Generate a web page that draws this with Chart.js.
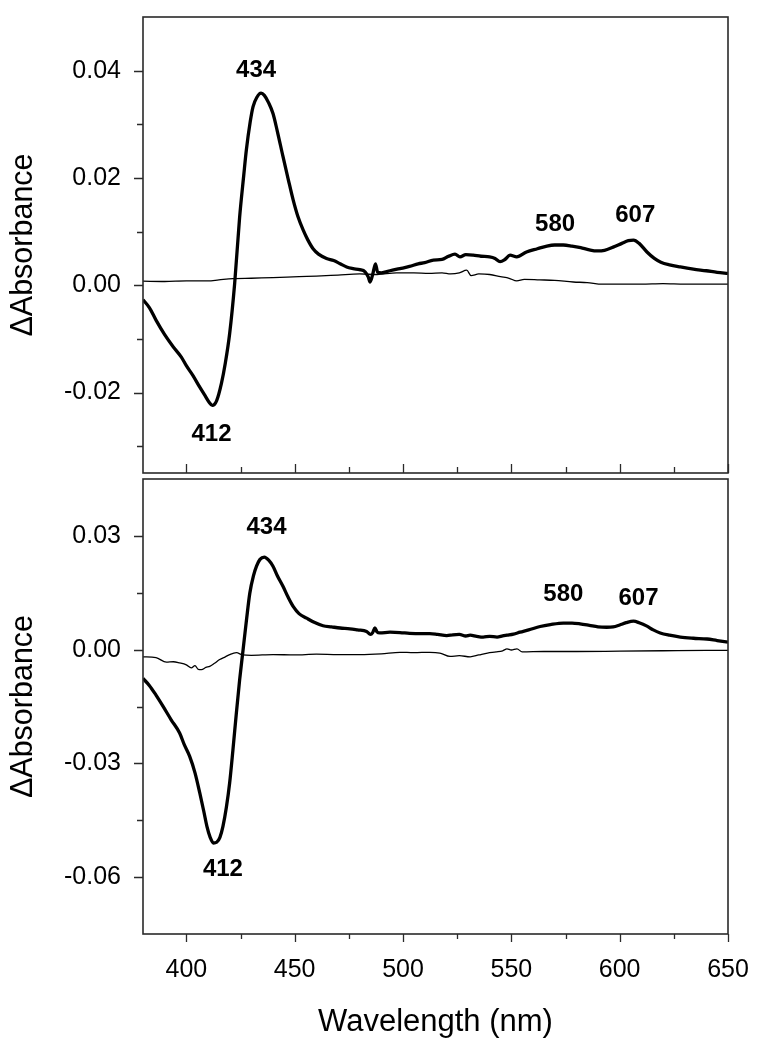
<!DOCTYPE html>
<html><head><meta charset="utf-8">
<script src="https://cdn.jsdelivr.net/npm/chart.js@4/dist/chart.umd.min.js"></script>
<style>
html,body{margin:0;padding:0;background:#fff;}
#wrap{position:relative;width:760px;height:1050px;background:#fff;}
#c1{position:absolute;left:0;top:0;}
#c2{position:absolute;left:0;top:476px;}
</style></head><body>
<div id="wrap"><canvas id="c1" width="760" height="476"></canvas><canvas id="c2" width="760" height="574"></canvas></div>
<script>
// ---------- data ----------
const topThickWl = [380,383,386,390,394,397.7,400,403,406.2,408.5,410.5,412,414,416.2,418,420,422.3,424.6,426.5,427.7,429.5,430.8,432.5,434.5,436,438,440,442,444.6,447,449.3,451.5,453.9,456,458.5,461,464.7,468,471,474,477,480,482.5,484,484.8,486,487.3,488.3,490,494,498.6,503,507,510,514,518,521,524,526.3,529,532.4,536,540,542.5,544.8,547,549.4,552.5,557,562,566.4,570,574,578,582,586,589.5,593,597,601,604,606.4,609,612.6,616,619,623,628,634,640,645,650];
const topThickVal = [-0.0027,-0.0042,-0.0065,-0.0092,-0.0115,-0.0134,-0.0150,-0.0168,-0.0190,-0.0205,-0.0218,-0.0224,-0.0215,-0.0183,-0.0145,-0.0090,0.0003,0.0127,0.0205,0.0252,0.0305,0.0333,0.0350,0.0358,0.0354,0.0340,0.0320,0.0287,0.0240,0.0198,0.0159,0.0128,0.0103,0.0085,0.0068,0.0058,0.0050,0.0046,0.0040,0.0034,0.0031,0.0029,0.0025,0.0015,0.0006,0.0020,0.0040,0.0024,0.0023,0.0027,0.0031,0.0035,0.0040,0.0042,0.0047,0.0048,0.0054,0.0058,0.0053,0.0057,0.0056,0.0054,0.0053,0.0050,0.0044,0.0048,0.0056,0.0053,0.0062,0.0068,0.0073,0.0075,0.0075,0.0073,0.0070,0.0066,0.0064,0.0065,0.0071,0.0078,0.0083,0.0084,0.0078,0.0062,0.0050,0.0043,0.0038,0.0034,0.0030,0.0027,0.0024,0.0022];

const topThinWl = [380,390,400,410,415,421.5,430,440,452,460,470,480,488,497,505,512,518,522,526,529.4,531.4,535,540,545,549,552.5,556,563,570,578.6,585,592,600,610,620,630,640,650];
const topThinVal = [0.00075,0.0007,0.0008,0.0008,0.0010,0.00125,0.0013,0.0014,0.0016,0.0017,0.0019,0.0021,0.0020,0.0023,0.0023,0.0022,0.0023,0.0021,0.0023,0.0028,0.0018,0.0021,0.0020,0.0016,0.0013,0.0008,0.0011,0.0010,0.0009,0.0006,0.0005,0.0002,0.0002,0.0002,0.0003,0.0002,0.0002,0.0002];

const botThickWl = [380,383,386,389.2,393,396.9,399,401.5,404,406.2,408,409.5,411,412.5,414,415.5,416.9,418.5,420,421.5,423.1,424.6,426.2,427.8,429.3,431,432.4,434,436,438,440,442,444.6,447,449.3,452,455.5,459,463.1,467,471,475.5,479,483.2,485,486,487,488,489.3,494,498.6,503,508,512.4,516,520.2,523,526,529,531,534,537,540,543.4,546,548,551,554,558,563.3,568,574,578,581.7,586,590,594,597,600,603,606.4,609,612.6,615.5,618.7,623,628,634,640.3,645,650];
const botThickVal = [-0.0076,-0.0095,-0.0120,-0.0149,-0.0185,-0.0220,-0.0250,-0.0281,-0.0325,-0.0378,-0.0425,-0.0466,-0.0495,-0.0510,-0.0508,-0.0495,-0.0466,-0.0415,-0.0351,-0.0265,-0.0167,-0.0080,0.0000,0.0080,0.0149,0.0195,0.0220,0.0238,0.0244,0.0236,0.0220,0.0195,0.0167,0.0138,0.0114,0.0095,0.0083,0.0072,0.0063,0.0060,0.0057,0.0055,0.0052,0.0048,0.0040,0.0045,0.0057,0.0047,0.0044,0.0046,0.0045,0.0043,0.0042,0.0042,0.0040,0.0037,0.0039,0.0040,0.0036,0.0038,0.0035,0.0033,0.0035,0.0033,0.0036,0.0038,0.0041,0.0046,0.0052,0.0061,0.0066,0.0070,0.0070,0.0068,0.0064,0.0060,0.0059,0.0060,0.0065,0.0071,0.0075,0.0071,0.0062,0.0052,0.0044,0.0038,0.0033,0.0030,0.0028,0.0024,0.0020];

const botThinWl = [380,386,390.8,394,396.9,400,402.3,404,405.5,407,409,410.8,413,415.4,418,420,423.1,426,430,440,450,460,470,480,490,498.6,505,512.4,517,521.7,526,531,535,539,543,546,548,550,552.6,555,565,580,600,620,640,650];
const botThinVal = [-0.0019,-0.0021,-0.0033,-0.0032,-0.0035,-0.0040,-0.0048,-0.0042,-0.0052,-0.0053,-0.0047,-0.0044,-0.0036,-0.0026,-0.0019,-0.0013,-0.0008,-0.0014,-0.0015,-0.0013,-0.0014,-0.0012,-0.0013,-0.0013,-0.0011,-0.0007,-0.0008,-0.0007,-0.0009,-0.0018,-0.0016,-0.0019,-0.0014,-0.0009,-0.0006,-0.0003,0.0002,-0.0001,0.0002,-0.0006,-0.0005,-0.0005,-0.0004,-0.0003,-0.0002,-0.0002];

// tick values
const xMajorTicks = [400,450,500,550,600,650];
const xMinorTicks = [425,475,525,575,625];
const topYMajor = [-0.02,0,0.02,0.04];
const topYMinor = [-0.03,-0.01,0.01,0.03];
const botYMajor = [-0.06,-0.03,0,0.03];
const botYMinor = [-0.045,-0.015,0.015];

// peak labels
const topPeakText = ['434','412','580','607'];
const topPeakAt = [[432.2,0.0400],[411.6,-0.0278],[570.2,0.0113],[607.2,0.0130]];
const botPeakText = ['434','412','580','607'];
const botPeakAt = [[437.0,0.0322],[416.9,-0.0580],[574.0,0.0145],[608.7,0.0135]];

const FONT = '"Liberation Sans", Arial, Helvetica, sans-serif';
const pts = (wl, v) => wl.map((w, i) => ({x: w, y: v[i]}));

const frameTicks = {
  id: 'frameTicks',
  afterDraw(chart, args, o) {
    const {ctx, chartArea: a, scales: {x, y}} = chart;
    ctx.save();
    ctx.strokeStyle = '#2a2a2a';
    ctx.lineWidth = 1.6;
    ctx.strokeRect(a.left, a.top, a.right - a.left, a.bottom - a.top);
    ctx.lineWidth = 1.3;
    ctx.beginPath();
    const xt = (vals, len) => vals.forEach(v => {
      const p = Math.round(x.getPixelForValue(v)) + 0.5;
      ctx.moveTo(p, a.bottom); ctx.lineTo(p, a.bottom + o.xDir * len);
    });
    const yt = (vals, len) => vals.forEach(v => {
      const p = Math.round(y.getPixelForValue(v)) + 0.5;
      ctx.moveTo(a.left, p); ctx.lineTo(a.left - len, p);
    });
    xt(xMajorTicks, o.xMajorLen); xt(xMinorTicks, o.xMinorLen);
    yt(o.yMajor, 9); yt(o.yMinor, 6);
    ctx.stroke();
    ctx.restore();
  }
};

const peakLabels = {
  id: 'peakLabels',
  afterDatasetsDraw(chart, args, o) {
    const {ctx, scales: {x, y}} = chart;
    ctx.save();
    ctx.font = 'bold 24px ' + FONT;
    ctx.fillStyle = '#000';
    ctx.textAlign = 'center';
    ctx.textBaseline = 'middle';
    o.text.forEach((t, i) => ctx.fillText(t, x.getPixelForValue(o.at[i][0]), y.getPixelForValue(o.at[i][1])));
    ctx.restore();
  }
};

function makeChart(id, cfg) {
  return new Chart(document.getElementById(id), {
    type: 'line',
    data: {datasets: [
      {data: pts(cfg.thickWl, cfg.thickVal), borderColor: '#000', borderWidth: 3.3, pointRadius: 0, cubicInterpolationMode: 'monotone', fill: false},
      {data: pts(cfg.thinWl, cfg.thinVal), borderColor: '#000', borderWidth: 1.3, pointRadius: 0, cubicInterpolationMode: 'monotone', fill: false}
    ]},
    options: {
      responsive: false, animation: false, devicePixelRatio: 1,
      layout: {padding: cfg.padding},
      plugins: {
        legend: {display: false}, tooltip: {enabled: false},
        frameTicks: {xDir: cfg.xDir, xMajorLen: cfg.xMajorLen, xMinorLen: cfg.xMinorLen, yMajor: cfg.yMajor, yMinor: cfg.yMinor},
        peakLabels: {text: cfg.peakText, at: cfg.peakAt}
      },
      scales: {
        x: {
          type: 'linear', min: 380, max: 650, display: cfg.showX,
          grid: {display: false, drawTicks: false}, border: {display: false},
          afterBuildTicks: s => { s.ticks = xMajorTicks.map(v => ({value: v})); },
          afterFit: s => { if (cfg.xHeight) s.height = cfg.xHeight; s.paddingLeft = 0; s.paddingRight = 0; s.paddingTop = 0; s.paddingBottom = 0; },
          ticks: {autoSkip: false, maxRotation: 0, padding: 21, color: '#000', font: {family: FONT, size: 25}},
          title: {display: cfg.showX, text: 'Wavelength (nm)', color: '#000', font: {family: FONT, size: 31}, padding: {top: 0, bottom: 9}}
        },
        y: {
          type: 'linear', min: cfg.yMin, max: cfg.yMax,
          grid: {display: false, drawTicks: false}, border: {display: false},
          afterBuildTicks: s => { s.ticks = cfg.yMajor.map(v => ({value: v})); },
          afterFit: s => { s.width = 143; s.paddingTop = 0; s.paddingBottom = 0; s.paddingLeft = 0; s.paddingRight = 0; },
          ticks: {autoSkip: false, padding: 22, color: '#000', font: {family: FONT, size: 25}, callback: v => v.toFixed(2)},
          title: {display: true, text: '\u0394Absorbance', color: '#000', font: {family: FONT, size: 30.5}, padding: {top: 5, bottom: 0}}
        }
      }
    },
    plugins: [frameTicks, peakLabels]
  });
}

makeChart('c1', {
  thickWl: topThickWl, thickVal: topThickVal, thinWl: topThinWl, thinVal: topThinVal,
  yMin: -0.035, yMax: 0.05, yMajor: topYMajor, yMinor: topYMinor,
  peakText: topPeakText, peakAt: topPeakAt,
  padding: {top: 17, right: 32, bottom: 3, left: 0},
  showX: false, xDir: -1, xMajorLen: 9, xMinorLen: 6
});
makeChart('c2', {
  thickWl: botThickWl, thickVal: botThickVal, thinWl: botThinWl, thinVal: botThinVal,
  yMin: -0.075, yMax: 0.045, yMajor: botYMajor, yMinor: botYMinor,
  peakText: botPeakText, peakAt: botPeakAt,
  padding: {top: 3, right: 32, bottom: 0, left: 0},
  showX: true, xHeight: 116, xDir: 1, xMajorLen: 8, xMinorLen: 5
});
</script>
</body></html>
